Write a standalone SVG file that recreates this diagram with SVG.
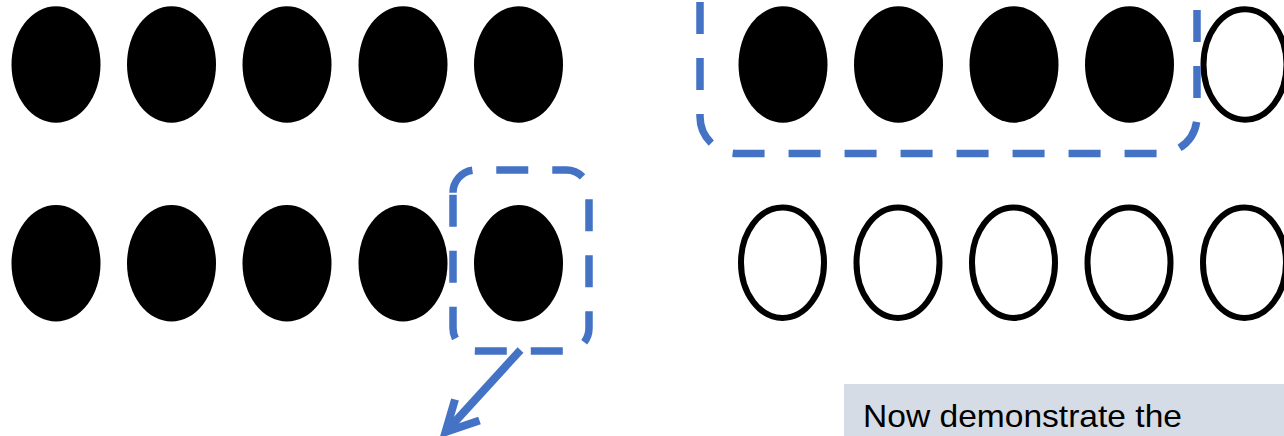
<svg xmlns="http://www.w3.org/2000/svg" width="1284" height="436" viewBox="0 0 1284 436">
  <style>
    .dot { fill: #000000; }
    .empty { fill: #ffffff; stroke: #000000; stroke-width: 6; }
    .select { fill: none; stroke: #4472C4; stroke-width: 7.5; stroke-dasharray: 32 24; }
    .arrow { fill: none; stroke: #4472C4; stroke-width: 8; stroke-linecap: butt; stroke-linejoin: miter; }
    .note { fill: #D6DCE5; }
    .label { font-family: "Liberation Sans", Arial, sans-serif; font-size: 32px; fill: #000000; }
  </style>

  <!-- left block, top row: five filled counters -->
  <g id="left-top-row">
    <ellipse class="dot" cx="56" cy="64.5" rx="44.5" ry="58.2"/>
    <ellipse class="dot" cx="171.5" cy="64.5" rx="44.5" ry="58.2"/>
    <ellipse class="dot" cx="287" cy="64.5" rx="44.5" ry="58.2"/>
    <ellipse class="dot" cx="403" cy="64.5" rx="44.5" ry="58.2"/>
    <ellipse class="dot" cx="518.5" cy="64.5" rx="44.5" ry="58.2"/>
  </g>

  <!-- left block, bottom row: five filled counters -->
  <g id="left-bottom-row">
    <ellipse class="dot" cx="56" cy="263.3" rx="44.5" ry="58.2"/>
    <ellipse class="dot" cx="171.5" cy="263.3" rx="44.5" ry="58.2"/>
    <ellipse class="dot" cx="287" cy="263.3" rx="44.5" ry="58.2"/>
    <ellipse class="dot" cx="403" cy="263.3" rx="44.5" ry="58.2"/>
    <ellipse class="dot" cx="518.5" cy="263.3" rx="44.5" ry="58.2"/>
  </g>

  <!-- right block, top row: four filled counters and one empty -->
  <g id="right-top-row">
    <ellipse class="dot" cx="783" cy="64.5" rx="44.5" ry="58.2"/>
    <ellipse class="dot" cx="898.5" cy="64.5" rx="44.5" ry="58.2"/>
    <ellipse class="dot" cx="1014" cy="64.5" rx="44.5" ry="58.2"/>
    <ellipse class="dot" cx="1129.5" cy="64.5" rx="44.5" ry="58.2"/>
    <ellipse class="empty" cx="1245" cy="64.5" rx="41.5" ry="55.2"/>
  </g>

  <!-- right block, bottom row: five empty counters -->
  <g id="right-bottom-row">
    <ellipse class="empty" cx="782.5" cy="262.7" rx="41.5" ry="55.2"/>
    <ellipse class="empty" cx="898" cy="262.7" rx="41.5" ry="55.2"/>
    <ellipse class="empty" cx="1013.5" cy="262.7" rx="41.5" ry="55.2"/>
    <ellipse class="empty" cx="1129" cy="262.7" rx="41.5" ry="55.2"/>
    <ellipse class="empty" cx="1244.5" cy="262.7" rx="41.5" ry="55.2"/>
  </g>

  <!-- dashed selection around the single counter taken from the bottom row -->
  <g id="single-selection">
    <path class="select" d="M453,192.7 A22.7,22.7 0 0 1 475.7,170 H566.3 A22.7,22.7 0 0 1 589,192.7 V328.3 A22.7,22.7 0 0 1 566.3,351 H475.7 A22.7,22.7 0 0 1 453,328.3 Z"/>
  </g>

  <!-- dashed selection around the group of four counters -->
  <g id="group-selection">
    <path class="select" style="stroke-dashoffset: 35.5" d="M700,-31.5 A37,37 0 0 1 737,-68.5 H1160 A37,37 0 0 1 1197,-31.5 V116.5 A37,37 0 0 1 1160,153.5 H737 A37,37 0 0 1 700,116.5 Z"/>
  </g>

  <!-- note box -->
  <g id="note">
    <rect class="note" x="844" y="384" width="460" height="70"/>
    <text class="label" x="863" y="427" textLength="319" lengthAdjust="spacingAndGlyphs">Now demonstrate the</text>
  </g>

  <!-- connectors -->
  <g id="connectors">
    <line class="arrow" x1="520.5" y1="350" x2="447" y2="430.5"/>
    <polyline class="arrow" points="455,399.5 445.5,432 479.5,420.5"/>
  </g>
</svg>
